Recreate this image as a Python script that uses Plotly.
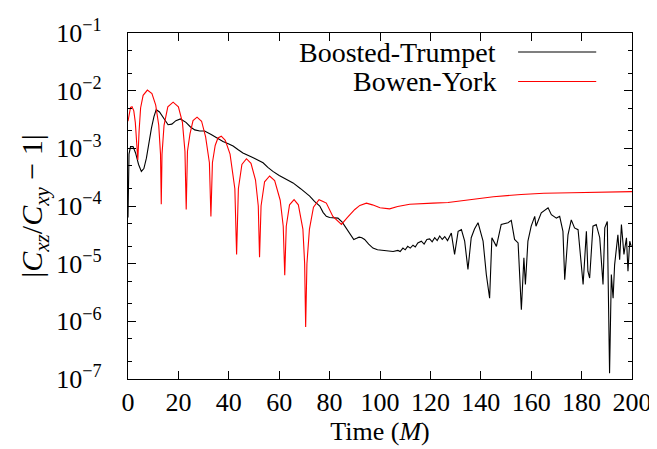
import plotly.graph_objects as go

# ---- data (t in M, log10 of |Cxz/Cxy - 1|) ----
bt_t = [0.0, 0.4, 1.0, 2.0, 3.0, 4.2, 5.3, 6.3, 7.3, 8.3, 9.3, 10.3, 11.2, 12.5, 13.9, 15.9, 17.4,
        19.0, 20.8, 23.0, 24.8, 26.5, 28.5, 30.4, 33.0, 35.5, 37.7, 39.8, 41.7, 43.6, 45.6, 49.5,
        53.6, 55.5, 57.5, 60.0, 62.8, 65.5, 68.5, 72.1, 74.0, 76.1, 77.4, 78.7, 80.0, 81.5, 83.3,
        85.0, 86.6, 88.2, 89.6, 90.7, 91.7, 92.8, 93.9, 95.5, 97.2, 99.0, 101.2, 103.0, 105.2,
        107.1, 108.0, 109.1, 110.0, 111.0, 112.0, 113.1, 114.0, 115.0, 116.4, 117.5, 118.6,
        119.7, 120.7, 121.7, 122.7, 123.7, 124.7, 125.7, 126.8, 128.3, 129.6, 131.0, 132.3,
        133.6, 134.9, 136.2, 137.5, 138.9, 140.9, 142.2, 143.5, 144.4, 146.2, 148.1, 150.8,
        152.1, 153.4, 154.8, 156.1, 157.1, 157.7, 158.7, 160.0, 161.4, 161.9, 164.0, 166.7,
        168.0, 170.0, 171.3, 172.6, 173.3, 174.6, 175.9, 177.2, 178.6, 180.6, 181.9, 182.5,
        183.2, 184.5, 185.8, 187.2, 188.5, 189.2, 190.2, 191.1, 191.8, 192.5, 193.1, 194.4,
        195.1, 195.8, 196.8, 197.8, 198.4, 199.1, 199.7]
bt_log = [-4.2, -3.1, -2.97, -2.97, -3.08, -3.28, -3.40, -3.35, -3.17, -2.90, -2.65, -2.45, -2.33,
          -2.37, -2.47, -2.59, -2.58, -2.52, -2.49, -2.55, -2.63, -2.68, -2.70, -2.70, -2.76,
          -2.83, -2.88, -2.92, -2.96, -3.02, -3.08, -3.16, -3.25, -3.33, -3.40, -3.47, -3.54,
          -3.60, -3.70, -3.83, -3.92, -4.00, -4.11, -4.18, -4.20, -4.21, -4.21, -4.28, -4.38,
          -4.48, -4.58, -4.56, -4.54, -4.55, -4.58, -4.66, -4.73, -4.76, -4.77, -4.78, -4.79,
          -4.77, -4.79, -4.73, -4.76, -4.70, -4.73, -4.68, -4.71, -4.64, -4.61, -4.66, -4.58,
          -4.57, -4.62, -4.55, -4.60, -4.52, -4.58, -4.53, -4.60, -4.47, -4.84, -4.44, -4.41,
          -4.61, -5.10, -4.55, -4.40, -4.29, -4.61, -5.19, -5.60, -4.55, -4.70, -4.32, -4.29,
          -4.25, -4.58, -4.64, -5.80, -4.90, -5.36, -4.61, -4.35, -4.18, -4.35, -4.12, -4.03,
          -4.15, -4.21, -4.18, -4.44, -5.28, -4.50, -4.24, -4.38, -4.41, -5.36, -4.44, -5.13,
          -5.25, -4.35, -4.32, -4.55, -5.36, -4.38, -4.27, -6.90, -5.19, -5.60, -5.02, -4.50,
          -4.93, -4.32, -4.84, -4.55, -5.13, -4.61, -4.70]

by_t = [0.0, 0.5, 1.0, 1.6, 2.3, 2.9, 3.4, 3.9, 4.4, 5.0, 6.0, 7.7, 9.5, 11.0, 12.2, 12.9, 13.2,
        13.5, 14.3, 15.8, 17.9, 20.0, 21.6, 22.6, 23.1, 23.6, 24.6, 25.8, 27.4, 29.2, 30.8, 32.3,
        32.9, 33.5, 34.6, 35.7, 37.0, 38.6, 40.5, 42.4, 43.1, 43.8, 45.2, 47.0, 48.8, 50.6, 51.7,
        52.2, 52.8, 54.2, 56.2, 58.2, 60.4, 61.6, 62.2, 62.8, 64.1, 65.9, 67.6, 69.4, 70.1, 70.5,
        71.0, 72.0, 73.6, 75.8, 77.4, 78.7, 81.3, 84.7, 87.0, 90.0, 92.0, 94.6, 97.0, 100.0,
        103.8, 107.0, 111.8, 115.0, 121.0, 127.0, 132.0, 137.6, 145.0, 156.0, 165.0, 176.0,
        188.0, 200.0]
by_log = [-2.53, -2.36, -2.29, -2.28, -2.35, -2.55, -2.85, -3.20, -2.70, -2.30, -2.08, -1.99,
          -2.05, -2.25, -2.60, -3.10, -3.97, -3.10, -2.60, -2.28, -2.20, -2.28, -2.55, -3.05,
          -4.06, -3.05, -2.75, -2.52, -2.46, -2.53, -2.80, -3.25, -4.18, -3.25, -2.95, -2.82,
          -2.79, -2.86, -3.10, -3.70, -4.84, -3.70, -3.28, -3.18, -3.26, -3.55, -4.00, -4.89,
          -4.00, -3.58, -3.48, -3.56, -3.90, -4.35, -5.20, -4.35, -3.98, -3.89, -3.98, -4.40,
          -5.00, -6.10, -5.00, -4.40, -4.02, -3.89, -3.92, -3.95, -4.18, -4.32, -4.20, -4.06,
          -3.99, -3.95, -3.98, -4.03, -4.05, -4.01, -3.97, -3.96, -3.95, -3.94, -3.91, -3.88,
          -3.84, -3.80, -3.78, -3.77, -3.76, -3.75]

y_tickvals = [1e-7, 1e-6, 1e-5, 1e-4, 1e-3, 1e-2, 1e-1]
y_ticktext = ["10<sup>−7</sup>", "10<sup>−6</sup>", "10<sup>−5</sup>", "10<sup>−4</sup>",
              "10<sup>−3</sup>", "10<sup>−2</sup>", "10<sup>−1</sup>"]
x_tickvals = [0, 20, 40, 60, 80, 100, 120, 140, 160, 180, 200]

series_names = ["Boosted-Trumpet", "Bowen-York"]
series_colors = ["#000000", "#ff0000"]

bt_v = [10 ** v for v in bt_log]
by_v = [10 ** v for v in by_log]

FONT = "Liberation Serif"
FS = 26

fig = go.Figure()
fig.add_trace(go.Scatter(x=bt_t, y=bt_v, mode="lines", name=series_names[0],
                         line=dict(color=series_colors[0], width=1.1), showlegend=False))
fig.add_trace(go.Scatter(x=by_t, y=by_v, mode="lines", name=series_names[1],
                         line=dict(color=series_colors[1], width=1.1), showlegend=False))

# legend drawn gnuplot-style: text right-aligned, sample line to its right
leg_y = [0.945, 0.86]
for name, col, yy in zip(series_names, series_colors, leg_y):
    fig.add_annotation(x=0.734, y=yy, xref="paper", yref="paper", text=name,
                       showarrow=False, xanchor="right", yanchor="middle",
                       font=dict(family=FONT, size=28, color="black"))
    fig.add_shape(type="line", xref="paper", yref="paper", x0=0.774, x1=0.929,
                  y0=yy, y1=yy, line=dict(color=col, width=1.1))

fig.update_layout(
    width=657, height=449,
    margin=dict(l=120, r=33, t=25, b=78, autoexpand=False),
    paper_bgcolor="white", plot_bgcolor="white",
    font=dict(family=FONT, size=FS, color="black"),
)
fig.update_xaxes(
    range=[0, 200], tickvals=x_tickvals, ticks="inside", ticklen=8, tickwidth=1,
    tickcolor="black", showline=True, linecolor="black", linewidth=1.2, mirror="allticks",
    showgrid=False, zeroline=False, tickfont=dict(family=FONT, size=FS),
    automargin=False,
    title=dict(text="Time (<i>M</i>)", font=dict(family=FONT, size=FS), standoff=5),
)
fig.update_yaxes(
    type="log", range=[-7, -1], tickvals=y_tickvals, ticktext=y_ticktext,
    ticks="inside", ticklen=8, tickwidth=1, tickcolor="black",
    minor=dict(ticks="inside", ticklen=4, tickcolor="black", showgrid=False),
    showline=True, linecolor="black", linewidth=1.2, mirror="allticks",
    showgrid=False, zeroline=False, tickfont=dict(family=FONT, size=FS),
    ticklabelstandoff=20, automargin=False,
    title=dict(text="|<i>C</i><sub><i>xz</i></sub>/<i>C</i><sub><i>xy</i></sub> − 1|",
               font=dict(family=FONT, size=30), standoff=4),
)

fig.write_html("out.html")
